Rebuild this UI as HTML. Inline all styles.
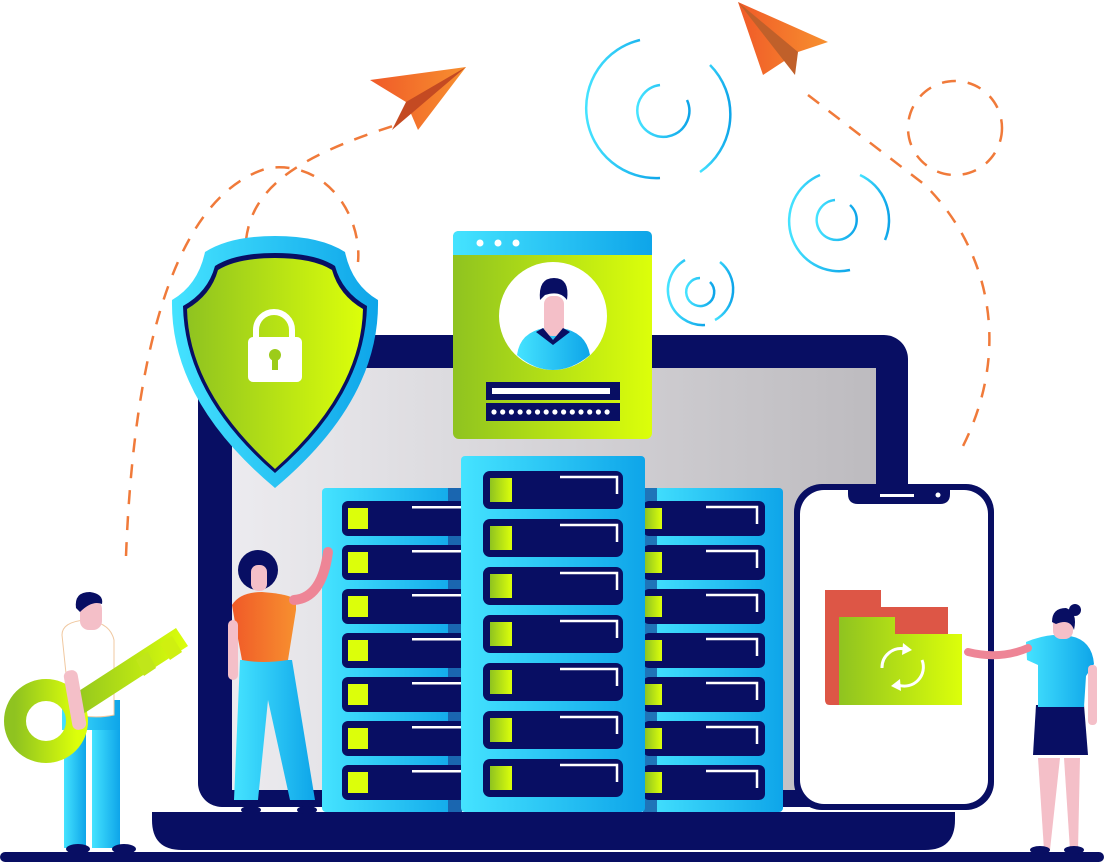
<!DOCTYPE html>
<html><head><meta charset="utf-8"><style>
html,body{margin:0;padding:0;background:#fff;}
svg{display:block;}
</style></head><body>
<svg width="1106" height="864" viewBox="0 0 1106 864" xmlns="http://www.w3.org/2000/svg">
<defs>
<linearGradient id="cy" x1="0" x2="1"><stop offset="0" stop-color="#45e3ff"/><stop offset="1" stop-color="#0ea5e9"/></linearGradient>
<linearGradient id="gr" x1="0" x2="1"><stop offset="0" stop-color="#8fc320"/><stop offset="1" stop-color="#dcff0a"/></linearGradient>
<linearGradient id="scr" x1="0" x2="1"><stop offset="0" stop-color="#ecebef"/><stop offset="1" stop-color="#bdbbbf"/></linearGradient>
<linearGradient id="or" x1="0" x2="1"><stop offset="0" stop-color="#f05a28"/><stop offset="1" stop-color="#f7902f"/></linearGradient>
</defs>
<g fill="none" stroke="#f07a3a" stroke-width="2.5" stroke-dasharray="14 12">
<path d="M126,556 C132,400 160,200 268,168 C330,160 362,220 358,262"/>
<path d="M246,240 C252,190 292,158 396,125"/>
<path d="M808,95 L925,185 C990,250 1012,350 962,448"/>
<circle cx="955" cy="128" r="47"/>
</g>
<g fill="none" stroke="url(#cy)" stroke-width="2.5">
<path d="M640,40 A70,70 0 0 0 660,178"/><path d="M710,65 A70,70 0 0 1 700,172"/>
<path d="M660,85 A26,26 0 1 0 687,100"/>
<path d="M820,175 A50,50 0 0 0 850,270"/><path d="M860,175 A50,50 0 0 1 885,240"/>
<path d="M835,200 A20,20 0 1 0 850,205"/>
<path d="M685,260 A35,35 0 0 0 705,325"/><path d="M720,262 A35,35 0 0 1 715,320"/>
<path d="M700,278 A14,14 0 1 0 710,282"/>
</g>
<polygon points="370,80 466,67 418,130 406,102" fill="url(#or)"/>
<polygon points="466,67 406,102 392,130" fill="#c44a22"/>
<polygon points="738,2 828,42 798,52 763,75" fill="url(#or)"/>
<polygon points="738,2 798,52 795,75" fill="#c0602a"/>
<rect x="198" y="335" width="710" height="472" rx="24" fill="#080e63"/>
<rect x="232" y="368" width="644" height="422" fill="url(#scr)"/>
<path d="M152,812 H955 V820 Q955,850 925,850 H182 Q152,850 152,820 Z" fill="#080e63"/>
<rect x="0" y="852" width="1104" height="10" rx="5" fill="#080e63"/>
<path d="M275,236 Q320,236 345,252 Q352,285 378,300 Q380,400 275,488 Q170,400 172,300 Q198,285 205,252 Q230,236 275,236 Z" fill="url(#cy)"/>
<path d="M275,253 Q315,253 335,266 Q342,292 367,306 Q365,395 275,473 Q185,395 183,306 Q208,292 215,266 Q235,253 275,253 Z" fill="#080e63"/>
<path d="M275,258 Q313,258 332,270 Q339,295 363,309 Q361,392 275,469 Q189,392 187,309 Q211,295 218,270 Q237,258 275,258 Z" fill="url(#gr)"/>
<path d="M256,338 V330 A18,18 0 0 1 292,330 V338" fill="none" stroke="#fff" stroke-width="6"/>
<rect x="248" y="337" width="54" height="45" rx="5" fill="#fff"/>
<circle cx="275" cy="355" r="6" fill="#9ccc1a"/><rect x="272" y="356" width="6" height="14" fill="#9ccc1a"/>
<rect x="453" y="231" width="199" height="208" rx="6" fill="url(#gr)"/>
<path d="M459,231 H646 Q652,231 652,237 V255 H453 V237 Q453,231 459,231 Z" fill="url(#cy)"/>
<circle cx="480" cy="243" r="3.5" fill="#fff"/><circle cx="498" cy="243" r="3.5" fill="#fff"/><circle cx="516" cy="243" r="3.5" fill="#fff"/>
<ellipse cx="553" cy="316" rx="54" ry="54" fill="#fff"/>
<path d="M517,355 Q520,332 545,328 H561 Q586,332 590,355 Q572,370 553,370 Q534,370 517,355 Z" fill="url(#cy)"/>
<rect x="544" y="296" width="20" height="40" rx="8" fill="#f4bfc8"/>
<path d="M540,300 Q538,278 554,278 Q570,278 567,300 Q560,290 545,295 Z" fill="#080e63"/>
<path d="M543,328 L553,340 L563,328 L570,332 L553,345 L536,332 Z" fill="#080e63"/>
<rect x="486" y="382" width="134" height="18" fill="#080e63"/>
<rect x="492" y="388" width="118" height="6" fill="#fff"/>
<rect x="486" y="403" width="134" height="18" fill="#080e63"/>
<g fill="#fff"><circle cx="494" cy="412" r="2.6"/><circle cx="502.7" cy="412" r="2.6"/><circle cx="511.4" cy="412" r="2.6"/><circle cx="520.1" cy="412" r="2.6"/><circle cx="528.8" cy="412" r="2.6"/><circle cx="537.5" cy="412" r="2.6"/><circle cx="546.2" cy="412" r="2.6"/><circle cx="554.9" cy="412" r="2.6"/><circle cx="563.6" cy="412" r="2.6"/><circle cx="572.3" cy="412" r="2.6"/><circle cx="581" cy="412" r="2.6"/><circle cx="589.7" cy="412" r="2.6"/><circle cx="598.4" cy="412" r="2.6"/><circle cx="607.1" cy="412" r="2.6"/></g>
<g>
<rect x="322" y="488" width="142" height="324" rx="4" fill="url(#cy)"/>
<rect x="643" y="488" width="140" height="324" rx="4" fill="url(#cy)"/>
<rect x="448" y="488" width="14" height="324" fill="#1a66b0"/>
<rect x="643" y="488" width="14" height="324" fill="#1f74b8"/>
<g id="ls">
<rect x="342" y="501" width="124" height="35" rx="6" fill="#080e63"/><rect x="348" y="508" width="20" height="21" fill="#dcff0a"/><rect x="412" y="506" width="50" height="2.5" fill="#fff"/>
</g>
<use href="#ls" y="44"/><use href="#ls" y="88"/><use href="#ls" y="132"/><use href="#ls" y="176"/><use href="#ls" y="220"/><use href="#ls" y="264"/>
<g id="rs">
<rect x="643" y="501" width="122" height="35" rx="6" fill="#080e63"/><rect x="645" y="508" width="17" height="21" fill="url(#gr)"/><path d="M706,507 H757 V524" fill="none" stroke="#fff" stroke-width="2.5"/>
</g>
<use href="#rs" y="44"/><use href="#rs" y="88"/><use href="#rs" y="132"/><use href="#rs" y="176"/><use href="#rs" y="220"/><use href="#rs" y="264"/>
<rect x="461" y="456" width="184" height="356" rx="4" fill="url(#cy)"/>
<g id="cs">
<rect x="483" y="471" width="140" height="38" rx="7" fill="#080e63"/><rect x="490" y="478" width="22" height="24" fill="url(#gr)"/><path d="M560,477 H617 V494" fill="none" stroke="#fff" stroke-width="2.5"/>
</g>
<use href="#cs" y="48"/><use href="#cs" y="96"/><use href="#cs" y="144"/><use href="#cs" y="192"/><use href="#cs" y="240"/><use href="#cs" y="288"/>
</g>
<rect x="794" y="484" width="200" height="326" rx="28" fill="#080e63"/>
<rect x="800" y="490" width="188" height="314" rx="24" fill="#fff"/>
<path d="M848,486 H950 V494 Q950,504 940,504 H858 Q848,504 848,494 Z" fill="#080e63"/>
<rect x="880" y="494" width="34" height="3" fill="#fff"/><circle cx="938" cy="495" r="2.5" fill="#fff"/>
<path d="M825,590 H881 V607 H948 V705 H830 Q825,705 825,700 Z" fill="#dd5646"/>
<path d="M839,617 H895 V634 H962 V705 H839 Z" fill="url(#gr)"/>
<g fill="none" stroke="#fff" stroke-width="3"><path d="M882,668 A19,19 0 0 1 905,649"/><path d="M922,660 A19,19 0 0 1 898,685"/></g>
<polygon points="903,643 912,650 902,655" fill="#fff"/><polygon points="900,679 891,686 901,691" fill="#fff"/>
<g>
<rect x="64" y="708" width="22" height="140" fill="url(#cy)"/><rect x="92" y="708" width="28" height="140" fill="url(#cy)"/>
<rect x="62" y="700" width="58" height="30" fill="url(#cy)"/>
<path d="M62,635 Q62,622 85,620 Q110,622 114,640 V715 Q90,720 70,712 Z" fill="#fff" stroke="#f0c8a0" stroke-width="1"/>
<rect x="80" y="600" width="22" height="30" rx="9" fill="#f4bfc8"/>
<path d="M76,608 Q74,592 90,592 Q104,594 102,604 Q92,600 80,612 Z" fill="#080e63"/>
<circle cx="46" cy="721" r="31" fill="none" stroke="url(#gr)" stroke-width="22"/>
<polygon points="68,698 176,628 188,646 80,716" fill="url(#gr)"/>
<polygon points="136,660 148,652 156,668 144,676" fill="#c0e61a"/>
<polygon points="160,644 172,636 182,652 170,660" fill="#cff010"/>
<rect x="68" y="670" width="14" height="60" rx="6" fill="#f4bfc8" transform="rotate(-10 75 700)"/>
<ellipse cx="78" cy="849" rx="12" ry="5" fill="#080e63"/><ellipse cx="124" cy="849" rx="12" ry="5" fill="#080e63"/>
</g>
<g>
<path d="M240,660 H292 L315,800 H290 L268,700 L258,800 H234 Z" fill="url(#cy)"/>
<path d="M232,605 Q240,592 262,592 Q290,594 296,600 L296,610 L288,660 Q262,664 242,660 L236,628 Z" fill="url(#or)"/>
<path d="M294,600 Q322,598 328,552" fill="none" stroke="#ee8596" stroke-width="10" stroke-linecap="round"/>
<rect x="228" y="620" width="10" height="60" rx="5" fill="#f4bfc8"/>
<circle cx="258" cy="570" r="20" fill="#080e63"/>
<rect x="251" y="565" width="16" height="26" rx="7" fill="#f4bfc8"/>
<ellipse cx="251" cy="810" rx="10" ry="4" fill="#080e63"/><ellipse cx="307" cy="810" rx="10" ry="4" fill="#080e63"/>
</g>
<g>
<path d="M1038,758 H1060 L1050,850 H1044 Z" fill="#f4bfc8"/><path d="M1064,758 H1080 L1078,850 H1070 Z" fill="#f4bfc8"/>
<path d="M1036,705 H1084 L1088,755 H1033 Z" fill="#080e63"/>
<path d="M1026,642 Q1050,632 1070,636 Q1092,640 1094,664 L1086,676 L1084,707 H1038 L1038,665 L1027,660 Z" fill="url(#cy)"/>
<path d="M968,652 Q1000,660 1028,648" fill="none" stroke="#ee8596" stroke-width="8" stroke-linecap="round"/>
<rect x="1088" y="665" width="9" height="60" rx="4" fill="#f4bfc8"/>
<rect x="1053" y="612" width="20" height="27" rx="8" fill="#f4bfc8"/>
<path d="M1052,622 Q1052,608 1066,608 Q1078,612 1074,630 Q1070,618 1056,624 Z" fill="#080e63"/>
<circle cx="1075" cy="610" r="6" fill="#080e63"/>
<ellipse cx="1040" cy="850" rx="10" ry="4" fill="#080e63"/><ellipse cx="1074" cy="850" rx="10" ry="4" fill="#080e63"/>
</g>
</svg>
</body></html>
